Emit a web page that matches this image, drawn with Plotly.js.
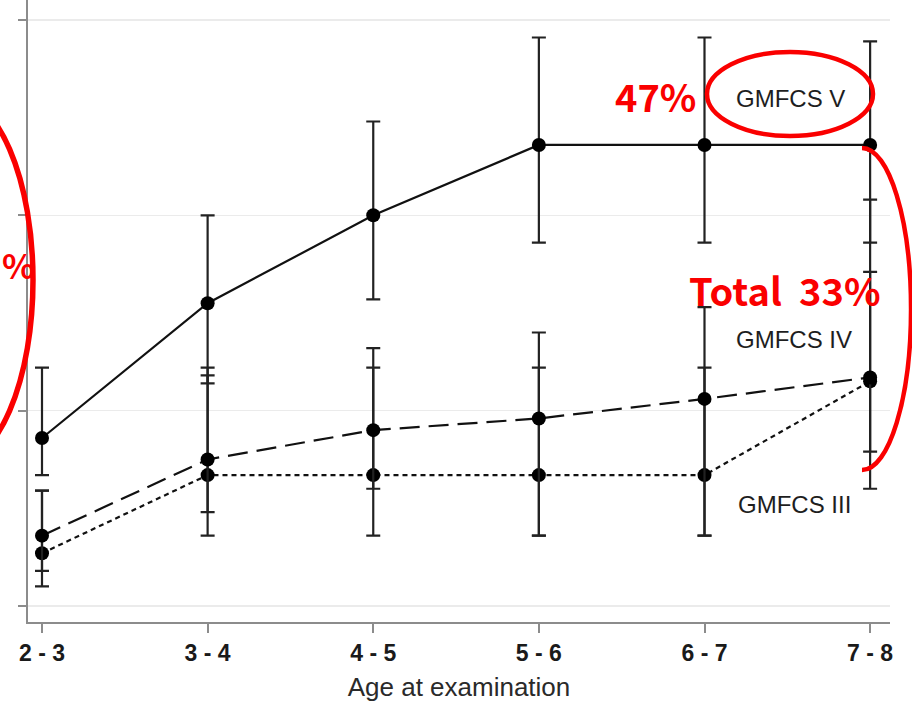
<!DOCTYPE html>
<html>
<head>
<meta charset="utf-8">
<script src="https://cdn.plot.ly/plotly-3.0.1.min.js"></script>
<style>
  html, body { margin: 0; padding: 0; background: #fff; }
  #chart { width: 912px; height: 704px; }
</style>
</head>
<body>
<div id="chart"></div>
<script>
// Age groups on the x axis
const ageGroups = ['2 - 3', '3 - 4', '4 - 5', '5 - 6', '6 - 7', '7 - 8'];

// GMFCS V: mean with lower / upper interval bounds
const gmfcs5Mean  = [8.6, 15.5, 20.0, 23.6, 23.6, 23.6];
const gmfcs5Upper = [12.2, 20.0, 24.8, 29.1, 29.1, 28.9];
const gmfcs5Lower = [6.7, 11.4, 15.7, 18.6, 18.6, 18.6];

// GMFCS IV
const gmfcs4Mean  = [3.6, 7.5, 9.0, 9.6, 10.6, 11.7];
const gmfcs4Upper = [5.9, 11.8, 12.2, 14.0, 15.3, 17.1];
const gmfcs4Lower = [1.0, 3.6, 6.0, 3.6, 3.6, 6.0];

// GMFCS III
const gmfcs3Mean  = [2.7, 6.7, 6.7, 6.7, 6.7, 11.5];
const gmfcs3Upper = [5.9, 12.2, 13.2, 12.2, 12.2, 20.8];
const gmfcs3Lower = [1.8, 4.8, 3.6, 3.6, 3.6, 7.9];

// y gridline values
const yTicks = [0, 10, 20, 30];

// plot-area geometry in pixels (used to place the red markup)
const W = 912, H = 704;
const M = { l: 28, r: 22, t: 0, b: 82 };
const PW = W - M.l - M.r, PH = H - M.t - M.b;
const px = x => (x - M.l) / PW;
const py = y => (M.t + PH - y) / PH;

function series(mean, lower, upper, dash) {
  return {
    type: 'scatter',
    mode: 'lines+markers',
    x: ageGroups,
    y: mean,
    line: { color: '#111', width: 2.2, dash: dash },
    marker: { color: '#000', size: 14 },
    error_y: {
      type: 'data',
      symmetric: false,
      array: upper.map((u, i) => u - mean[i]),
      arrayminus: lower.map((l, i) => mean[i] - l),
      color: '#222',
      thickness: 2.2,
      width: 7
    },
    hoverinfo: 'skip',
    showlegend: false
  };
}

const traces = [
  series(gmfcs3Mean, gmfcs3Lower, gmfcs3Upper, '5px,4px'),
  series(gmfcs4Mean, gmfcs4Lower, gmfcs4Upper, '20px,9px'),
  series(gmfcs5Mean, gmfcs5Lower, gmfcs5Upper, 'solid')
];

// half-ellipse (right side) as cubic Bezier path in paper coordinates
function rightHalfEllipse(cx, cy, rx, ry) {
  const k = 0.5523;
  const P = (x, y) => px(x).toFixed(4) + ',' + py(y).toFixed(4);
  return 'M' + P(cx, cy - ry) +
    ' C' + P(cx + k * rx, cy - ry) + ' ' + P(cx + rx, cy - k * ry) + ' ' + P(cx + rx, cy) +
    ' C' + P(cx + rx, cy + k * ry) + ' ' + P(cx + k * rx, cy + ry) + ' ' + P(cx, cy + ry);
}

const red = 'rgb(250,0,0)';
const shapes = [
  { type: 'circle', xref: 'paper', yref: 'paper',
    x0: px(707), x1: px(873), y0: py(52), y1: py(136),
    line: { color: red, width: 4.5 } },
  { type: 'circle', xref: 'paper', yref: 'paper',
    x0: px(-127), x1: px(33), y0: py(95), y1: py(465),
    line: { color: red, width: 5.5 } },
  { type: 'path', xref: 'paper', yref: 'paper',
    path: rightHalfEllipse(862, 309, 49, 161),
    line: { color: red, width: 4.5 } }
];

const labelFont = { family: 'Liberation Sans, Arial, sans-serif', size: 24, color: '#1e1e1e' };
const redFont = { family: 'Noto Sans CJK KR, Noto Sans, sans-serif', size: 38, color: red, weight: 'bold' };

const annotations = [
  { text: 'GMFCS V', x: px(790), y: py(99), font: labelFont },
  { text: 'GMFCS IV', x: px(794), y: py(339), font: labelFont },
  { text: 'GMFCS III', x: px(794), y: py(504), font: labelFont },
  { text: '47%', x: px(655), y: py(95), font: redFont },
  { text: 'Total  33%', x: px(785), y: py(289), font: redFont },
  { text: '%', x: px(0), y: py(264), xanchor: 'left',
    font: Object.assign({}, redFont, { size: 34 }) }
].map(a => Object.assign({ xref: 'paper', yref: 'paper', showarrow: false, xanchor: 'center', yanchor: 'middle' }, a));

const layout = {
  width: W, height: H,
  margin: M,
  paper_bgcolor: '#fff',
  plot_bgcolor: '#fff',
  showlegend: false,
  hovermode: false,
  xaxis: {
    type: 'category',
    range: [-0.0845, 5.12],
    showgrid: false,
    zeroline: false,
    showline: true,
    linecolor: '#8c8c8c',
    linewidth: 2,
    ticks: 'outside',
    ticklen: 9,
    tickwidth: 2,
    tickcolor: '#8c8c8c',
    tickfont: { family: 'Liberation Sans, Arial, sans-serif', size: 23, color: '#1a1a1a', weight: 'bold' },
    title: { text: 'Age at examination', standoff: 13,
             font: { family: 'Liberation Sans, Arial, sans-serif', size: 26, color: '#2a2a2a' } }
  },
  yaxis: {
    range: [-0.82, 31.02],
    tickvals: yTicks,
    showticklabels: false,
    showgrid: true,
    gridcolor: '#ebebeb',
    gridwidth: 1.5,
    zeroline: false,
    showline: true,
    linecolor: '#8c8c8c',
    linewidth: 2,
    ticks: 'outside',
    ticklen: 8,
    tickwidth: 2,
    tickcolor: '#8c8c8c'
  },
  shapes: shapes,
  annotations: annotations
};

Plotly.newPlot('chart', traces, layout, { displayModeBar: false, staticPlot: true });
</script>
</body>
</html>
